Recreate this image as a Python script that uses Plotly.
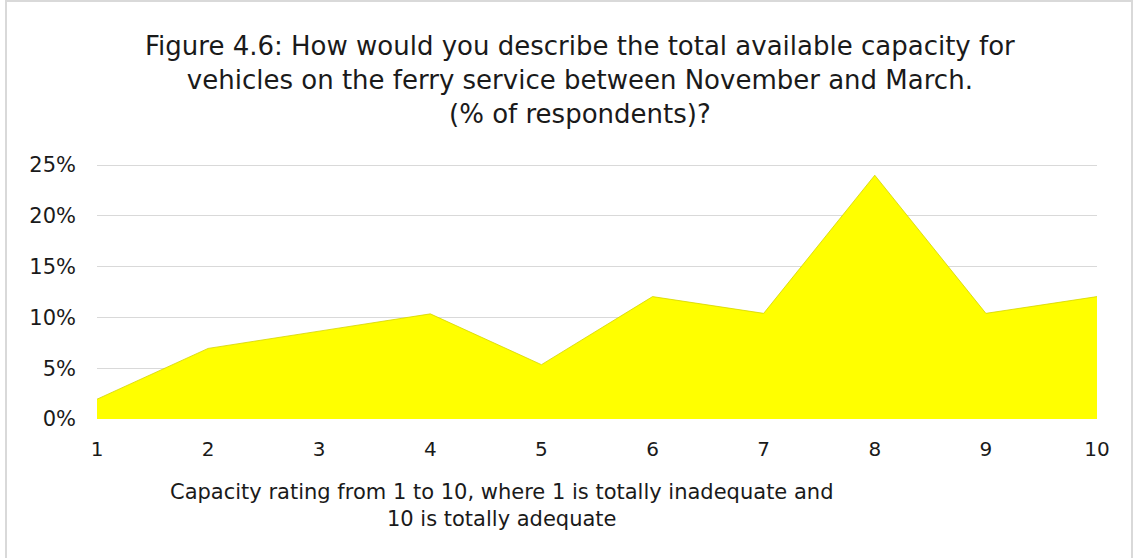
import plotly.graph_objects as go

ratings = [1, 2, 3, 4, 5, 6, 7, 8, 9, 10]
pct = [1.95, 6.95, 8.65, 10.35, 5.35, 12.05, 10.4, 24.0, 10.4, 12.05]
y_ticks = [0, 5, 10, 15, 20, 25]
y_tick_text = ["0%", "5%", "10%", "15%", "20%", "25%"]

FONT = "'DejaVu Sans', sans-serif"

fig = go.Figure()
fig.add_trace(go.Scatter(
    x=ratings, y=pct, mode="lines", fill="tozeroy",
    fillcolor="#ffff00", line=dict(color="#d4d400", width=0.8),
    hoverinfo="skip", showlegend=False,
))

fig.update_layout(
    width=1137, height=558,
    margin=dict(l=97, r=40, t=161, b=139),
    paper_bgcolor="white", plot_bgcolor="white",
    font=dict(family=FONT, color="#1a1a1a"),
    xaxis=dict(range=[1, 10], tickvals=ratings, ticktext=[str(r) for r in ratings],
               showgrid=False, zeroline=False, showline=False, ticks="",
               tickfont=dict(size=20), ticklabelstandoff=16),
    yaxis=dict(range=[0, 25.4], tickvals=y_ticks, ticktext=y_tick_text,
               showgrid=True, gridcolor="#d9d9d9", gridwidth=1, zeroline=False,
               showline=False, ticks="", tickfont=dict(size=21), ticklabelstandoff=20),
    shapes=[dict(type="rect", xref="paper", yref="paper",
                 x0=-91/1000, x1=1035/1000, y0=-0.6, y1=1.62,
                 line=dict(color="#d9d9d9", width=2), fillcolor="rgba(0,0,0,0)",
                 layer="below")],
    annotations=[
        dict(text="Figure 4.6: How would you describe the total available capacity for<br>"
                  "vehicles on the ferry service between November and March.<br>"
                  "(% of respondents)?",
             xref="paper", yref="paper", x=(580-97)/1000, y=1.0, yshift=30,
             xanchor="center", yanchor="bottom", showarrow=False, align="center",
             font=dict(size=26, color="#1a1a1a")),
        dict(text="Capacity rating from 1 to 10, where 1 is totally inadequate and<br>"
                  "10 is totally adequate",
             xref="paper", yref="paper", x=(501-97)/1000, y=0, yshift=-59,
             xanchor="center", yanchor="top", showarrow=False, align="center",
             font=dict(size=21, color="#1a1a1a")),
    ],
)

fig.write_html("out.html")
